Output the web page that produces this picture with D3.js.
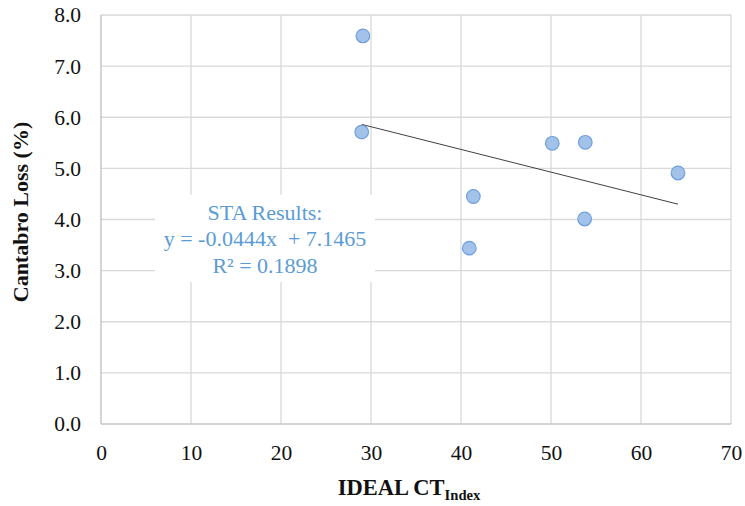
<!DOCTYPE html>
<html>
<head>
<meta charset="utf-8">
<script src="https://cdn.jsdelivr.net/npm/d3@7"></script>
<style>
  html, body { margin: 0; padding: 0; background: #fff; }
  svg { display: block; }
  text { font-family: "Liberation Serif", "Times New Roman", serif; }
</style>
</head>
<body>
<svg id="chart" width="745" height="506"></svg>
<script>
// IDEAL CT index vs. Cantabro loss
const ctIndex = [29.1, 28.97, 41.37, 40.92, 50.14, 53.81, 53.74, 64.11];
const cantabroLoss = [7.59, 5.71, 4.45, 3.44, 5.49, 5.51, 4.01, 4.91];
const xTicks = [0, 10, 20, 30, 40, 50, 60, 70];
const yTicks = [0, 1, 2, 3, 4, 5, 6, 7, 8];
const trendSlope = -0.0444;
const trendIntercept = 7.1465;
const trendR2 = 0.1898;
const annotationLines = [
  "STA Results:",
  "y = " + trendSlope + "x  + " + trendIntercept,
  "R\u00B2 = " + trendR2
];

const svg = d3.select("#chart");
const x = d3.scaleLinear().domain([0, 70]).range([101, 731]);
const y = d3.scaleLinear().domain([0, 8]).range([424, 15]);

// gridlines
const grid = svg.append("g");
grid.selectAll("line.v").data(xTicks.slice(1)).join("line")
  .attr("x1", d => x(d)).attr("x2", d => x(d))
  .attr("y1", y(0)).attr("y2", y(8))
  .attr("stroke", "#d9d9d9").attr("stroke-width", 1.3);
grid.selectAll("line.h").data(yTicks.slice(1)).join("line")
  .attr("x1", x(0)).attr("x2", x(70))
  .attr("y1", d => y(d)).attr("y2", d => y(d))
  .attr("stroke", "#d9d9d9").attr("stroke-width", 1.3);

// axis lines
svg.append("line").attr("x1", x(0)).attr("x2", x(0)).attr("y1", y(0)).attr("y2", y(8))
  .attr("stroke", "#c6c6c6").attr("stroke-width", 1.5);
svg.append("line").attr("x1", x(0)).attr("x2", x(70)).attr("y1", y(0)).attr("y2", y(0))
  .attr("stroke", "#c6c6c6").attr("stroke-width", 1.5);

// tick labels via d3 axes (lines hidden)
const xAxis = svg.append("g").attr("transform", `translate(0,${y(0)})`)
  .call(d3.axisBottom(x).tickValues(xTicks).tickFormat(d3.format("d")).tickSize(0).tickPadding(21));
const yAxis = svg.append("g").attr("transform", `translate(${x(0)},0)`)
  .call(d3.axisLeft(y).tickValues(yTicks).tickFormat(d3.format(".1f")).tickSize(0).tickPadding(20));
[xAxis, yAxis].forEach(a => {
  a.select(".domain").remove();
  a.selectAll("text").attr("font-family", "Liberation Serif, Times New Roman, serif")
    .attr("font-size", 21.5).attr("fill", "#111");
});

// trendline over the data range
const xMin = d3.min(ctIndex), xMax = d3.max(ctIndex);
svg.append("line")
  .attr("x1", x(xMin)).attr("y1", y(trendSlope * xMin + trendIntercept))
  .attr("x2", x(xMax)).attr("y2", y(trendSlope * xMax + trendIntercept))
  .attr("stroke", "#404040").attr("stroke-width", 1);

// points
svg.append("g").selectAll("circle").data(ctIndex.map((v, i) => [v, cantabroLoss[i]])).join("circle")
  .attr("cx", d => x(d[0])).attr("cy", d => y(d[1])).attr("r", 6.8)
  .attr("fill", "#a3c2ea").attr("stroke", "#6f9fdb").attr("stroke-width", 1.2);

// regression label
svg.append("rect").attr("x", 155).attr("y", 195).attr("width", 220).attr("height", 87).attr("fill", "#fff");
svg.append("g").selectAll("text").data(annotationLines).join("text")
  .attr("x", 265).attr("y", (d, i) => 220 + i * 26.3)
  .attr("text-anchor", "middle").attr("font-size", 22).attr("fill", "#5b9bd5")
  .style("white-space", "pre").text(d => d);

// axis titles
const xt = svg.append("text").attr("x", 409).attr("y", 495)
  .attr("text-anchor", "middle").attr("font-weight", "bold").attr("fill", "#111");
xt.append("tspan").attr("font-size", 22.5).text("IDEAL CT");
xt.append("tspan").attr("font-size", 14.6).attr("dy", 4.7).text("Index");

svg.append("text")
  .attr("transform", "translate(28,212) rotate(-90)")
  .attr("text-anchor", "middle").attr("font-weight", "bold").attr("font-size", 22)
  .attr("fill", "#111").text("Cantabro Loss (%)");
</script>
</body>
</html>
